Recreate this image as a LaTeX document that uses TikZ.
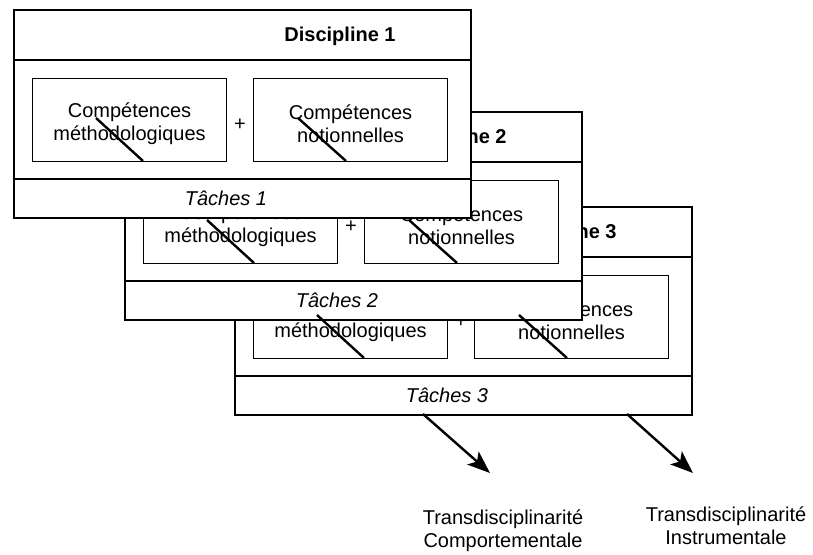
\documentclass[tikz,border=0pt]{standalone}
\usepackage{fontspec}
\setmainfont{Liberation Sans}
\usetikzlibrary{arrows.meta}
\begin{document}
\begin{tikzpicture}[x=0.75pt,y=-0.75pt,line width=0.8pt,
        font=\fontsize{15}{17.25}\selectfont,
        compbox/.style={draw,fill=white,minimum width=145.5pt,minimum height=62.25pt,
            anchor=north west,inner sep=0pt},
        comptext/.style={align=center,inner sep=0pt},
        slash/.style={line width=1.8pt},
        arr/.style={line width=1.8pt,-{Stealth[length=17pt,width=13pt,inset=4pt]}}]
    \useasboundingbox (0,0) rectangle (813,554);
    % the three stacked cards, back to front
    \foreach \n/\x/\y in {3/235/207,2/125/112,1/14/10}{
        \begin{scope}[shift={(\x,\y)}]
            \draw[fill=white] (0,0) rectangle (457,208);
            \draw (0,50) -- (457,50);
            \draw (0,169) -- (457,169);
            \node[font=\fontsize{15}{17.25}\selectfont\bfseries] (head\n) at (326,26) {Discipline \n};
            \node[compbox] (boxA\n) at (18,68) {};
            \node[compbox] (boxB\n) at (239,68) {};
            \node[comptext] (txtA\n) at ([yshift=-3pt]boxA\n.center) {Compétences\\méthodologiques};
            \node[comptext] (txtB\n) at ([yshift=-3pt]boxB\n.center) {Compétences\\notionnelles};
            \node (plus\n) at (226,115) {+};
            \node[font=\fontsize{15}{17.25}\selectfont\itshape] (tache\n) at (212,188) {Tâches \n};
        \end{scope}
    }
    % strokes over the boxes
    \foreach \x/\y in {235/207,125/112,14/10}{
        \begin{scope}[shift={(\x,\y)}]
            \draw[slash] (82,108) -- (129,151);
            \draw[slash] (284,108) -- (332,151);
        \end{scope}
    }
    % outcomes
    \node[align=center] (comport) at (503,531) {Transdisciplinarité\\Comportementale};
    \node[align=center] (instru) at (726,526) {Transdisciplinarité\\Instrumentale};
    \coordinate (c1) at (423,414);
    \coordinate (c2) at (627,414);
    \coordinate (e1) at (490,473);
    \coordinate (e2) at (693,473);
    \draw[arr] (c1) -- (e1);
    \draw[arr] (c2) -- (e2);
\end{tikzpicture}
\end{document}
